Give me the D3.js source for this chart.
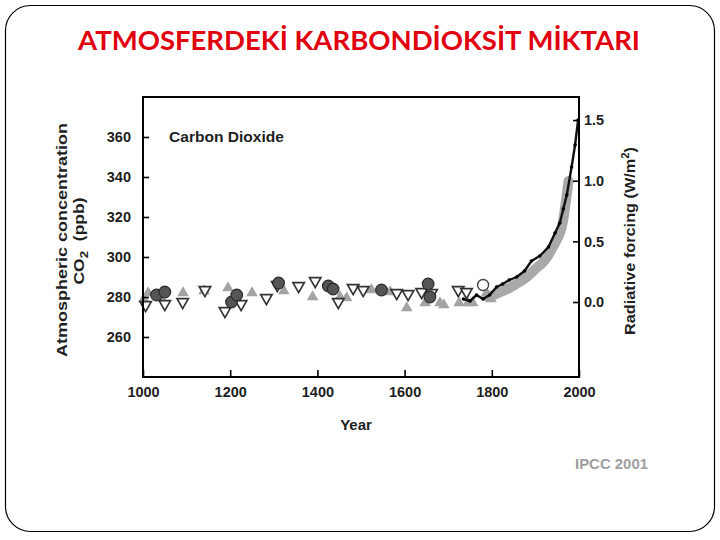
<!DOCTYPE html>
<html><head><meta charset="utf-8">
<script src="https://cdn.jsdelivr.net/npm/d3@7"></script>
<style>body{margin:0;background:#fff}svg{display:block}</style>
</head><body>
<svg id="c" width="720" height="540"></svg>
<script>
// ---------- data ----------
const title = "ATMOSFERDEKİ KARBONDİOKSİT MİKTARI";
const panelLabel = "Carbon Dioxide";
const sourceLabel = "IPCC 2001";
const co2Ticks = [260, 280, 300, 320, 340, 360];
const forcingTicks = [0, 0.5, 1.0, 1.5];
const yearTicks = [1000, 1200, 1400, 1600, 1800, 2000];

// [year, ppm]
const openDownTriangles = [[1006,276],[1050,276.5],[1091,277.5],[1142,283.5],[1188,273],[1225,276.5],[1283,279.5],
  [1308,286],[1357,285.5],[1395,288],[1448,277.5],[1482,284.5],[1505,283.5],[1582,282],[1608,281.5],
  [1639,282.5],[1662,282],[1723,283.5],[1742,282.5]];
const darkCircles = [[1031,281],[1050,282.5],[1203,277.5],[1215,281],[1311,287],[1425,285.5],[1436,284],
  [1547,283.5],[1654,286.5],[1658,280]];
const lightTriangles = [[1002,279],[1012,282],[1040,280],[1092,282],[1140,283],[1195,284.5],[1212,279],
  [1250,282],[1323,283],[1389,280],[1452,280],[1467,279.5],[1524,283.5],[1567,282.5],[1605,274.5],
  [1647,277],[1681,277],[1690,276],[1725,277],[1745,277],[1756,277],[1788,282],[1798,279]];
const openCircles = [[1780,286]];
const grayBand = [[1790,280],[1805,281],[1820,282.5],[1840,284.5],[1860,287],[1880,290],[1900,294],
  [1918,297.5],[1930,301],[1940,305],[1950,309],[1958,313],[1965,320],[1970,328],[1976,338]];
const blackLine = [[1735,279],[1750,278],[1765,281],[1780,279],[1795,281],[1811,285],[1825,286.5],
  [1840,288.5],[1857,290],[1875,293],[1891,298],[1910,300.5],[1930,305],[1945,312],[1956,317],
  [1964,324],[1972,331],[1983,345],[1991,356],[1998,368.5]];

// ---------- layout ----------
const svg = d3.select("#c");
const L = 143, R = 579, T = 97, B = 377;
const x = d3.scaleLinear().domain([1000, 2000]).range([L, R]);
const y = d3.scaleLinear().domain([240, 380]).range([B, T]);
const yF = d3.scaleLinear().domain([-0.618, 1.69]).range([B, T]);
const ink = "#1e1e1e";
const sansB = "'Liberation Sans', Arial, sans-serif";

svg.append("rect").attr("width", 720).attr("height", 540).attr("fill", "#fff");
svg.append("rect").attr("x", 5.5).attr("y", 5.5).attr("width", 709).attr("height", 526)
  .attr("rx", 25).attr("ry", 25).attr("fill", "none").attr("stroke", "#000").attr("stroke-width", 1.2);

svg.append("text").attr("x", 359).attr("y", 50).attr("text-anchor", "middle")
  .attr("font-family", "Lato, 'Open Sans', sans-serif").attr("font-weight", 700).attr("font-size", 26)
  .attr("fill", "#e0000f").attr("textLength", 562).attr("lengthAdjust", "spacingAndGlyphs").text(title);

// ---------- marks ----------
const g = svg.append("g");
g.append("path").datum(grayBand)
  .attr("d", d3.line().x(d => x(d[0])).y(d => y(d[1])).curve(d3.curveMonotoneX))
  .attr("fill", "none").attr("stroke", "#a9a9a9").attr("stroke-width", 10).attr("stroke-linecap", "round")
  .attr("stroke-linejoin", "round");

g.selectAll(".lt").data(lightTriangles).join("path")
  .attr("d", d3.symbol(d3.symbolTriangle, 58))
  .attr("transform", d => `translate(${x(d[0])},${y(d[1])})`)
  .attr("fill", "#a3a3a3");

g.selectAll(".ot").data(openDownTriangles).join("path")
  .attr("d", d3.symbol(d3.symbolTriangle, 56))
  .attr("transform", d => `translate(${x(d[0])},${y(d[1])}) rotate(180)`)
  .attr("fill", "#fff").attr("stroke", "#333").attr("stroke-width", 1.7);

g.selectAll(".dc").data(darkCircles).join("circle")
  .attr("cx", d => x(d[0])).attr("cy", d => y(d[1])).attr("r", 5.8)
  .attr("fill", "#555").attr("stroke", "#2a2a2a").attr("stroke-width", 1.2);

g.selectAll(".oc").data(openCircles).join("circle")
  .attr("cx", d => x(d[0])).attr("cy", d => y(d[1])).attr("r", 5.5)
  .attr("fill", "#fff").attr("stroke", "#444").attr("stroke-width", 1.4);

g.append("path").datum(blackLine)
  .attr("d", d3.line().x(d => x(d[0])).y(d => y(d[1])))
  .attr("fill", "none").attr("stroke", "#111").attr("stroke-width", 2.4).attr("stroke-linejoin", "round");
g.selectAll(".bd").data(blackLine).join("circle")
  .attr("cx", d => x(d[0])).attr("cy", d => y(d[1])).attr("r", 1.8).attr("fill", "#000");

// ---------- frame & axes ----------
svg.append("rect").attr("x", L).attr("y", T).attr("width", R - L).attr("height", B - T)
  .attr("fill", "none").attr("stroke", "#000").attr("stroke-width", 2);

function styleAxis(sel) {
  sel.select(".domain").remove();
  sel.selectAll("line").attr("stroke", "#000").attr("stroke-width", 1.6);
  sel.selectAll("text").attr("font-family", sansB).attr("font-weight", 700)
    .attr("font-size", 14.5).attr("fill", ink);
}
svg.append("g").attr("transform", `translate(${L},0)`)
  .call(d3.axisLeft(y).tickValues(co2Ticks).tickSize(-6).tickPadding(12).tickFormat(d3.format("d")))
  .call(styleAxis);
svg.append("g").attr("transform", `translate(${R},0)`)
  .call(d3.axisRight(yF).tickValues(forcingTicks).tickSize(-6).tickPadding(5).tickFormat(d3.format(".1f")))
  .call(styleAxis);
svg.append("g").attr("transform", `translate(0,${B})`)
  .call(d3.axisBottom(x).tickValues(yearTicks).tickSize(-7).tickPadding(10).tickFormat(d3.format("d")))
  .call(styleAxis);

// ---------- labels ----------
svg.append("text").attr("x", 169).attr("y", 142).attr("font-family", sansB).attr("font-weight", 700)
  .attr("font-size", 15).attr("fill", ink).attr("textLength", 115).attr("lengthAdjust", "spacingAndGlyphs")
  .text(panelLabel);

svg.append("text").attr("transform", "translate(67,240) rotate(-90)").attr("text-anchor", "middle")
  .attr("font-family", sansB).attr("font-weight", 700).attr("font-size", 14.5).attr("fill", ink)
  .attr("textLength", 234).attr("lengthAdjust", "spacingAndGlyphs").text("Atmospheric concentration");

const co2 = svg.append("text").attr("transform", "translate(84,241) rotate(-90)").attr("text-anchor", "middle")
  .attr("font-family", sansB).attr("font-weight", 700).attr("font-size", 14.5).attr("fill", ink)
  .attr("textLength", 87).attr("lengthAdjust", "spacingAndGlyphs");
co2.append("tspan").text("CO");
co2.append("tspan").attr("font-size", 11).attr("dy", 4).text("2");
co2.append("tspan").attr("dy", -4).text("\u00a0 (ppb)");

const rf = svg.append("text").attr("transform", "translate(635,241) rotate(-90)").attr("text-anchor", "middle")
  .attr("font-family", sansB).attr("font-weight", 700).attr("font-size", 14.5).attr("fill", ink)
  .attr("textLength", 188).attr("lengthAdjust", "spacingAndGlyphs");
rf.append("tspan").text("Radiative forcing (W/m");
rf.append("tspan").attr("font-size", 10).attr("dy", -6).text("2");
rf.append("tspan").attr("dy", 6).text(")");

svg.append("text").attr("x", 356).attr("y", 430).attr("text-anchor", "middle")
  .attr("font-family", sansB).attr("font-weight", 700).attr("font-size", 15).attr("fill", ink).text("Year");

svg.append("text").attr("x", 575).attr("y", 469).attr("font-family", sansB).attr("font-weight", 700)
  .attr("font-size", 15).attr("fill", "#a0a0a0").attr("textLength", 73).attr("lengthAdjust", "spacingAndGlyphs")
  .text(sourceLabel);
</script>
</body></html>
